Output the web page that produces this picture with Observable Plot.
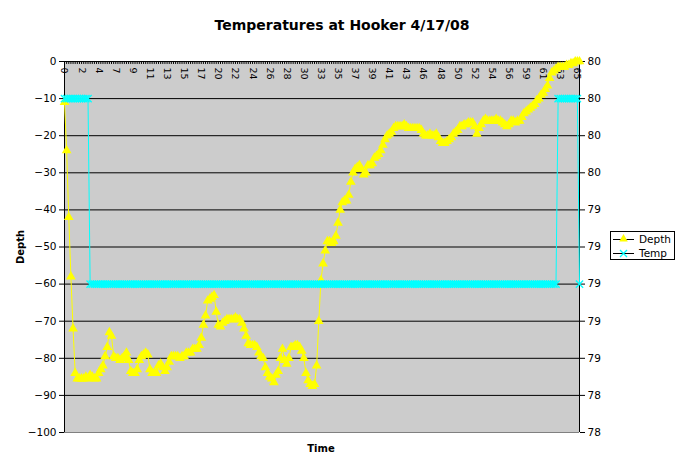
<!DOCTYPE html>
<html><head><meta charset="utf-8">
<script src="https://cdn.jsdelivr.net/npm/d3@7"></script>
<script src="https://cdn.jsdelivr.net/npm/@observablehq/plot@0.6"></script>
<style>body{margin:0;background:#fff}svg{display:block}</style>
</head><body><div id="chart"></div>
<script>
const title = "Temperatures at Hooker 4/17/08";
const xTitle = "Time";
const yTitle = "Depth";
const seriesNames = ["Depth", "Temp"];
const xLabels = ["0","2","4","7","9","11","13","15","17","20","22","24","26","28","30","33","35","37","39","41","43","46","48","50","52","54","56","59","61","63","65"];
const labelEvery = 8;
const depthTicks = [-100,-90,-80,-70,-60,-50,-40,-30,-20,-10,0];
const tempMin = 78.2, tempMax = 80.2;

const depth = [
-11,-24,-42,-58,-72,-84,-85.5,-85.5,-85.5,-85.5,
-85,-85.5,-84.5,-85,-85.5,-85.5,-84,-83,-82,-79.5,
-77,-73,-74,-79.5,-80,-80,-80.5,-80,-79.5,-78.5,
-80.5,-83.5,-84,-84,-83,-80.5,-79.5,-79,-78.5,-79,
-83,-84,-84,-84,-82,-81.5,-82.5,-83.5,-82.5,-81,
-79.5,-79.5,-79.5,-79.5,-80,-79.5,-79.5,-78.5,-78.5,-78.5,
-77.5,-77.5,-77.5,-76.5,-74.5,-71,-68.5,-64.5,-64,-63.5,
-63,-67.5,-71,-71.5,-70.5,-70,-69.5,-69.5,-69.5,-69.5,
-69,-69.5,-69.5,-70.5,-72,-74,-76,-76.5,-76.5,-76.5,
-77,-78.5,-79.5,-80,-82.5,-84,-85,-85.5,-86.5,-84.5,
-83.5,-80,-77.5,-80.5,-81.5,-80,-77,-77,-76.5,-76.5,
-77,-78,-80,-84,-86,-87,-87.5,-87,-82,-70,
-59,-54.5,-51,-48.5,-48.5,-49,-48.5,-47,-43.5,-40,
-38,-37.5,-37.5,-36,-32.5,-30,-29,-28.5,-28,-29,
-30.5,-30,-28,-28,-27.5,-26,-25.5,-25,-24,-22.5,
-21,-20,-19.5,-19,-18,-17.5,-17.5,-17.5,-17.5,-17,
-17.5,-18,-18,-18,-18,-18,-18,-18.5,-19.5,-20,
-20,-19.5,-20,-20,-19.5,-20.5,-21.5,-22,-22,-21.5,
-21,-20.5,-19.5,-19,-18.5,-17.5,-17.5,-17,-17,-16.5,
-16.5,-16.5,-17.5,-19.5,-18,-17,-16,-15.5,-16,-16,
-16,-16,-15.5,-16,-16,-16.5,-17,-17.5,-17,-16,
-16,-16.5,-16,-16,-15,-14,-13.5,-13,-12.5,-12,
-11.5,-10.5,-10,-9,-8.5,-7.5,-6.5,-4.5,-3,-2.5,
-2,-1.5,-1.5,-1.5,-1.5,-1,-1,-0.5,-0.5,0,
0,0
];

const temp = [
80,80,80,80,80,80,80,80,80,80,
80,80,79,79,79,79,79,79,79,79,
79,79,79,79,79,79,79,79,79,79,
79,79,79,79,79,79,79,79,79,79,
79,79,79,79,79,79,79,79,79,79,
79,79,79,79,79,79,79,79,79,79,
79,79,79,79,79,79,79,79,79,79,
79,79,79,79,79,79,79,79,79,79,
79,79,79,79,79,79,79,79,79,79,
79,79,79,79,79,79,79,79,79,79,
79,79,79,79,79,79,79,79,79,79,
79,79,79,79,79,79,79,79,79,79,
79,79,79,79,79,79,79,79,79,79,
79,79,79,79,79,79,79,79,79,79,
79,79,79,79,79,79,79,79,79,79,
79,79,79,79,79,79,79,79,79,79,
79,79,79,79,79,79,79,79,79,79,
79,79,79,79,79,79,79,79,79,79,
79,79,79,79,79,79,79,79,79,79,
79,79,79,79,79,79,79,79,79,79,
79,79,79,79,79,79,79,79,79,79,
79,79,79,79,79,79,79,79,79,79,
79,79,79,79,79,79,79,79,79,79,
79,80,80,80,80,80,80,80,80,80,
80,79
];

const rows = depth.map((d, i) => ({i, depth: d, temp: temp[i]}));
const nLast = depth.length - 1;
const tempToY = t => -100 + (t - tempMin) / (tempMax - tempMin) * 100;
const yToTemp = y => tempMin + (y + 100) / 100 * (tempMax - tempMin);

const FONT = "DejaVu Sans";
const W = 683, H = 467;

const chart = Plot.plot({
  width: W, height: H,
  marginLeft: 64, marginRight: 104, marginTop: 61, marginBottom: 35,
  style: {fontFamily: FONT, fontSize: "10.5px", background: "#fff", overflow: "visible", color: "#000"},
  x: {domain: [0, nLast], axis: null},
  y: {domain: [-100, 0]},
  marks: [
    Plot.frame({fill: "#cccccc", stroke: null}),
    Plot.ruleY(depthTicks.filter(d => d > -100 && d < 0), {stroke: "#000"}),
    Plot.ruleY([-100], {stroke: "#808080"}),
    Plot.ruleX([0], {stroke: "#000"}),
    Plot.ruleX([nLast], {stroke: "#000"}),
    Plot.ruleY([0], {stroke: "#000"}),
    Plot.ruleX(rows, {x: "i", y1: 0, y2: -0.8, stroke: "#000"}),
    Plot.axisY(depthTicks, {anchor: "left", tickSize: 5, tickPadding: 3, label: null, fontSize: 10.5}),
    Plot.axisY(depthTicks, {anchor: "right", tickSize: 5, tickPadding: 3, label: null, fontSize: 10.5,
      tickFormat: d => String(Math.round(yToTemp(d)))}),
    Plot.text(xLabels, {x: (d, i) => i * labelEvery, y: () => 0, text: d => d, rotate: 90,
      textAnchor: "start", dy: 6, fontSize: 9.5, fill: "#000"}),
    Plot.line(rows, {x: "i", y: "depth", stroke: "#ffff00", strokeWidth: 1}),
    Plot.dot(rows, {x: "i", y: "depth", symbol: "triangle", r: 3.6, fill: "#ffff00", stroke: null}),
    Plot.line(rows, {x: "i", y: d => tempToY(d.temp), stroke: "#00ffff", strokeWidth: 1}),
    Plot.dot(rows, {x: "i", y: d => tempToY(d.temp), symbol: "times", r: 3.4, stroke: "#00ffff", strokeWidth: 1.3})
  ]
});

document.getElementById("chart").appendChild(chart);
const svg = d3.select(chart);
const g = svg.append("g").attr("font-family", FONT).attr("fill", "#000").attr("text-anchor", "middle");
g.append("text").attr("x", 342).attr("y", 30)
  .attr("font-size", 14).attr("font-weight", "bold").text(title);
g.append("text").attr("x", 321).attr("y", 452)
  .attr("font-size", 10).attr("font-weight", "bold").text(xTitle);
g.append("text").attr("transform", "translate(24,247) rotate(-90)")
  .attr("font-size", 10).attr("font-weight", "bold").text(yTitle);

// legend
const lg = svg.append("g").attr("font-family", FONT).attr("text-anchor", "start");
lg.append("rect").attr("x", 610.5).attr("y", 231.5).attr("width", 64).attr("height", 28)
  .attr("fill", "#fff").attr("stroke", "#000");
const ys = [239, 253];
ys.forEach((y, k) => {
  lg.append("line").attr("x1", 613).attr("x2", 634).attr("y1", y + 0.5).attr("y2", y + 0.5).attr("stroke", "#000");
  if (k === 0) {
    lg.append("path").attr("d", d3.symbol(d3.symbolTriangle, 32)()).attr("transform", `translate(623.5,${y})`).attr("fill", "#ffff00");
  } else {
    lg.append("path").attr("d", d3.symbol(d3.symbolTimes, 34)()).attr("transform", `translate(623.5,${y + 0.5})`)
      .attr("fill", "none").attr("stroke", "#00ffff").attr("stroke-width", 1.3);
  }
  lg.append("text").attr("x", 639).attr("y", y + 4).attr("font-size", 10.5).attr("fill", "#000").text(seriesNames[k]);
});
</script>
</body></html>
